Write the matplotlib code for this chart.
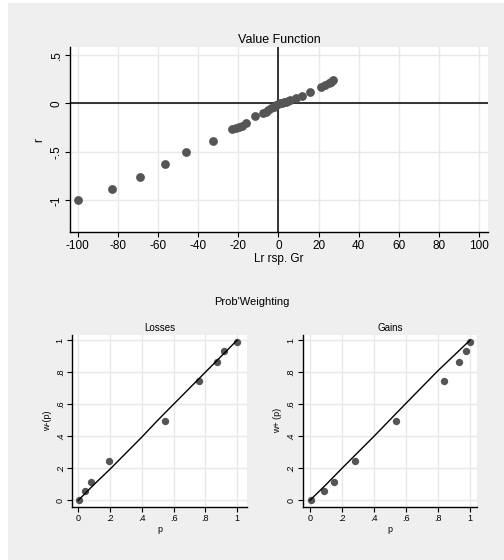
import matplotlib
matplotlib.use("Agg")
import matplotlib.pyplot as plt
from matplotlib.patches import Rectangle

plt.rcParams["font.family"] = ["Liberation Sans", "DejaVu Sans"]
plt.rcParams["axes.unicode_minus"] = False

# value function data (outcome, r)
vf_x = [-100, -83, -69, -56.5, -46.2, -32.7, -23, -21, -19.5, -18, -16,
        -11.6, -7.5, -6, -5, -3.5, -2, -1, 0, 1, 2, 3, 4, 5, 6,
        8.6, 12, 15.5, 21.3, 23.3, 25, 26, 27]
vf_y = [-1.0, -0.88, -0.76, -0.63, -0.50, -0.39, -0.26, -0.25, -0.24, -0.23, -0.20,
        -0.135, -0.10, -0.085, -0.07, -0.05, -0.035, -0.02, -0.01, 0.0, 0.005, 0.01, 0.015, 0.02, 0.03,
        0.055, 0.08, 0.115, 0.17, 0.19, 0.21, 0.225, 0.24]

# probability weighting, losses
loss_p = [0.006, 0.04, 0.082, 0.195, 0.544, 0.763, 0.876, 0.92, 1.0]
loss_w = [0.0, 0.06, 0.117, 0.244, 0.496, 0.746, 0.865, 0.935, 0.99]
loss_fit_p = [0.0, 0.1, 0.2, 0.3, 0.4, 0.5, 0.6, 0.7, 0.8, 0.9, 1.0]
loss_fit_w = [0.0, 0.1, 0.195, 0.295, 0.395, 0.5, 0.6, 0.7, 0.8, 0.9, 1.0]

# probability weighting, gains
gain_p = [0.004, 0.0875, 0.148, 0.281, 0.54, 0.835, 0.933, 0.973, 1.0]
gain_w = [0.0, 0.058, 0.117, 0.244, 0.496, 0.744, 0.865, 0.933, 0.992]
gain_fit_p = [0.0, 0.1, 0.2, 0.3, 0.4, 0.5, 0.6, 0.7, 0.8, 0.9, 1.0]
gain_fit_w = [0.0, 0.098, 0.2, 0.3, 0.4, 0.503, 0.606, 0.708, 0.81, 0.905, 1.0]

pt_col = "#555555"
grid_col = "#e8e8e8"
bg = "#efefef"

fig = plt.figure(figsize=(5.04, 5.60), dpi=100)
fig.patch.set_facecolor("white")
fig.patches.append(Rectangle((8/504, 0), 1, 1 - 3/560, transform=fig.transFigure,
                             facecolor=bg, edgecolor="none", zorder=-10))


def style(ax, fs):
    for s in ["top", "right"]:
        ax.spines[s].set_visible(False)
    for s in ["left", "bottom"]:
        ax.spines[s].set_color("black")
        ax.spines[s].set_linewidth(1.0)
    ax.set_facecolor("white")
    ax.grid(True, color=grid_col, linewidth=1.0)
    ax.set_axisbelow(True)
    ax.tick_params(direction="out", length=3.5, width=0.8, labelsize=fs, pad=2)
    for lab in ax.get_yticklabels():
        lab.set_rotation(90)
        lab.set_va("center")


# top: value function
ax = fig.add_axes([0.1395, 0.5852, 0.8282, 0.3309])
ax.set_xlim(-103.7, 104.3)
ax.set_ylim(-1.33, 0.582)
ax.set_xticks(range(-100, 101, 20))
ax.set_yticks([-1, -0.5, 0, 0.5])
ax.set_yticklabels(["-1", "-.5", "0", ".5"])
style(ax, 8.5)
ax.axhline(0, color="black", linewidth=1.1, zorder=2)
ax.axvline(0, color="black", linewidth=1.1, zorder=2)
ax.scatter(vf_x, vf_y, s=40, color=pt_col, zorder=3, linewidths=0)
ax.set_title("Value Function", fontsize=9, pad=3)
ax.set_xlabel("Lr rsp. Gr", fontsize=8.5, labelpad=1)
ax.set_ylabel("r", fontsize=8.5, labelpad=4)

fig.text(0.5, 1 - 302/560, "Prob'Weighting", ha="center", va="center", fontsize=8)

probticks = [0, 0.2, 0.4, 0.6, 0.8, 1]
problabels = ["0", ".2", ".4", ".6", ".8", "1"]

panels = [
    ([0.1435, 0.0952, 0.346, 0.3066], (-0.038, 1.061), loss_p, loss_w,
     loss_fit_p, loss_fit_w, "Losses", "w-(p)"),
    ([0.6018, 0.0952, 0.344, 0.3066], (-0.042, 1.042), gain_p, gain_w,
     gain_fit_p, gain_fit_w, "Gains", "w+ (p)"),
]
for pos, xl, px, pw, fx, fw, title, ylab in panels:
    a = fig.add_axes(pos)
    a.set_xlim(*xl)
    a.set_ylim(-0.04, 1.033)
    a.set_xticks(probticks)
    a.set_xticklabels(problabels)
    a.set_yticks(probticks)
    a.set_yticklabels(problabels)
    style(a, 6.5)
    a.scatter(px, pw, s=28, color=pt_col, zorder=3, linewidths=0)
    a.plot(fx, fw, color="black", linewidth=1.0, zorder=4)
    a.set_title(title, fontsize=7, pad=3)
    a.set_xlabel("p", fontsize=6.5, labelpad=1)
    a.set_ylabel(ylab, fontsize=6.5, labelpad=3)

fig.savefig("out.png", dpi=100, facecolor=fig.get_facecolor())
